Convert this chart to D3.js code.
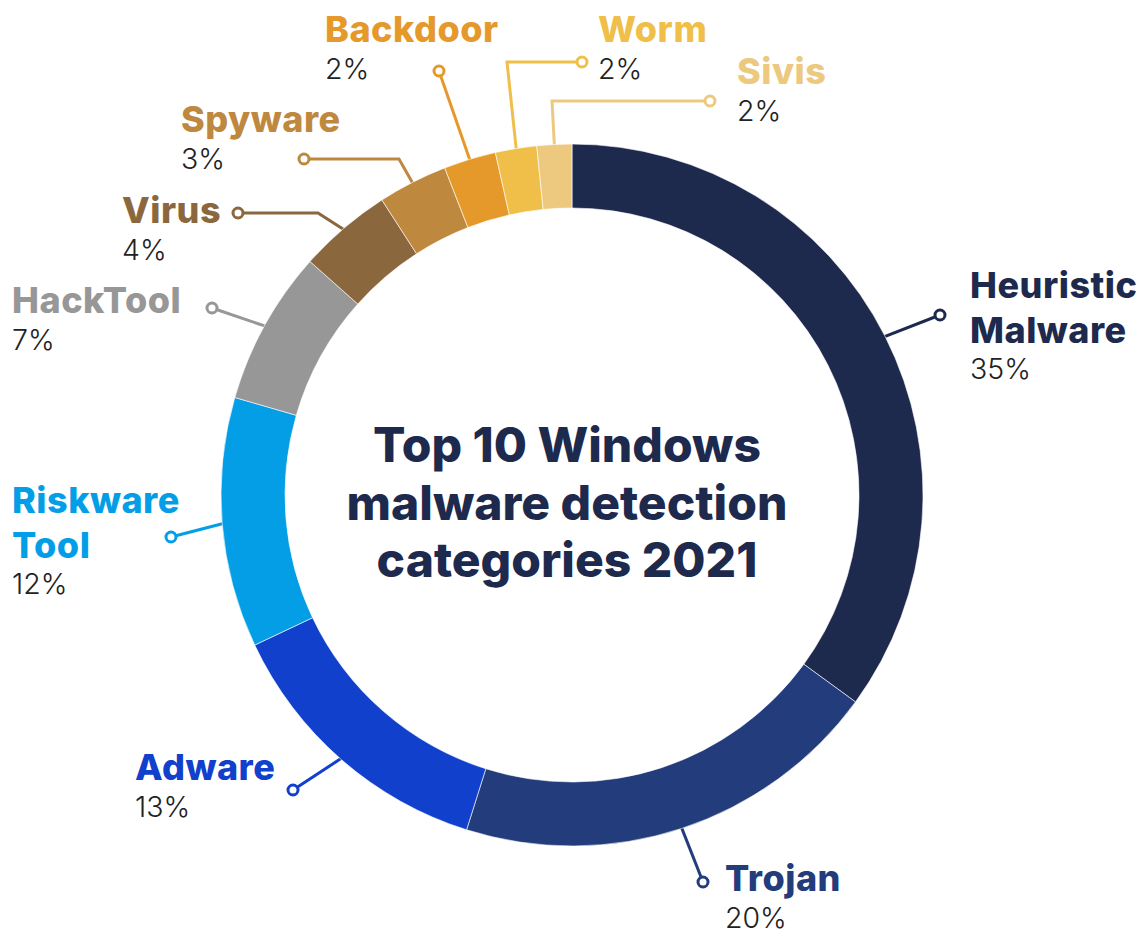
<!DOCTYPE html>
<html>
<head>
<meta charset="utf-8">
<script src="https://cdn.jsdelivr.net/npm/d3@7"></script>
<style>
  html, body { margin: 0; padding: 0; background: #fff; }
  svg { display: block; }
</style>
</head>
<body>
<svg id="chart" width="1142" height="930"></svg>
<script>
// ---- data ----
const categories = ["Heuristic Malware", "Trojan", "Adware", "Riskware Tool", "HackTool",
                    "Virus", "Spyware", "Backdoor", "Worm", "Sivis"];
const shares = [35, 19.8, 13.1, 11.5, 7.1, 4.3, 3.2, 2.4, 1.9, 1.6];
const pctLabels = ["35%", "20%", "13%", "12%", "7%", "4%", "3%", "2%", "2%", "2%"];
const titleLines = ["Top 10 Windows", "malware detection", "categories 2021"];

// ---- styles / layout ----
const colors = ["#1e2a4d", "#233c7b", "#1040cc", "#039ee6", "#979797",
                "#8b673d", "#bf883f", "#e5992b", "#efbf4a", "#edc97f"];
const layout = [
  { x: 970, y: 298, wrap: true,  dot: [940, 315], elbow: [] },
  { x: 725, y: 891, wrap: false, dot: [703, 882], elbow: [] },
  { x: 135, y: 780, wrap: false, dot: [293, 790], elbow: [] },
  { x: 12,  y: 513, wrap: true,  dot: [171, 537], elbow: [] },
  { x: 12,  y: 313, wrap: false, dot: [212, 308], elbow: [] },
  { x: 122, y: 223, wrap: false, dot: [238, 213], elbow: [[318, 213]] },
  { x: 181, y: 132, wrap: false, dot: [304, 159], elbow: [[399, 159]] },
  { x: 325, y: 42,  wrap: false, dot: [439, 71],  elbow: [] },
  { x: 598, y: 42,  wrap: false, dot: [582, 62],  elbow: [[507, 62]] },
  { x: 737, y: 84,  wrap: false, dot: [710, 101], elbow: [[552, 101]] }
];

const cx = 572, cy = 495, rOuter = 351, rInner = 287;
const font = "Inter, 'Noto Sans', sans-serif";

const data = categories.map((c, i) => ({ name: c, value: shares[i], pct: pctLabels[i], i }));

const svg = d3.select("#chart");
const g = svg.append("g").attr("transform", `translate(${cx},${cy})`);

const pie = d3.pie().sort(null).value(d => d.value).startAngle(0).endAngle(2 * Math.PI);
const arcs = pie(data);
const arc = d3.arc().innerRadius(rInner).outerRadius(rOuter);
const edge = d3.arc().innerRadius(rOuter - 4).outerRadius(rOuter - 4);

// leader lines (under the ring)
const line = d3.line();
arcs.forEach(a => {
  const L = layout[a.data.i];
  const start = edge.centroid(a);
  const pts = [start,
    ...L.elbow.map(p => [p[0] - cx, p[1] - cy]),
    [L.dot[0] - cx, L.dot[1] - cy]];
  g.append("path")
    .attr("d", line(pts))
    .attr("fill", "none")
    .attr("stroke", colors[a.data.i])
    .attr("stroke-width", 3)
    .attr("stroke-linejoin", "miter");
});

// ring
g.selectAll("path.slice").data(arcs).enter().append("path")
  .attr("class", "slice")
  .attr("d", arc)
  .attr("fill", d => colors[d.data.i])
  .attr("stroke", "#fff")
  .attr("stroke-width", 0.6);

// dots
arcs.forEach(a => {
  const L = layout[a.data.i];
  g.append("circle")
    .attr("cx", L.dot[0] - cx).attr("cy", L.dot[1] - cy)
    .attr("r", 5)
    .attr("fill", "#fff")
    .attr("stroke", colors[a.data.i])
    .attr("stroke-width", 3);
});

// labels
data.forEach(d => {
  const L = layout[d.i];
  const lines = L.wrap ? d.name.split(" ") : [d.name];
  const lh = 44.5;
  lines.forEach((t, k) => {
    svg.append("text")
      .attr("x", L.x).attr("y", L.y + k * lh)
      .attr("font-family", font)
      .attr("font-weight", 800)
      .attr("font-size", 36)
      .attr("letter-spacing", 0.5)
      .attr("fill", colors[d.i])
      .text(t);
  });
  svg.append("text")
    .attr("x", L.x).attr("y", L.y + (lines.length - 1) * lh + 36.5)
    .attr("font-family", font)
    .attr("font-weight", 300)
    .attr("font-size", 28.5)
    .attr("fill", "#222")
    .text(d.pct);
});

// title
titleLines.forEach((t, k) => {
  svg.append("text")
    .attr("x", cx - 5).attr("y", 462 + k * 57.5)
    .attr("text-anchor", "middle")
    .attr("font-family", font)
    .attr("font-weight", 800)
    .attr("font-size", 48)
    .attr("fill", "#1e2a4d")
    .text(t);
});
</script>
</body>
</html>
